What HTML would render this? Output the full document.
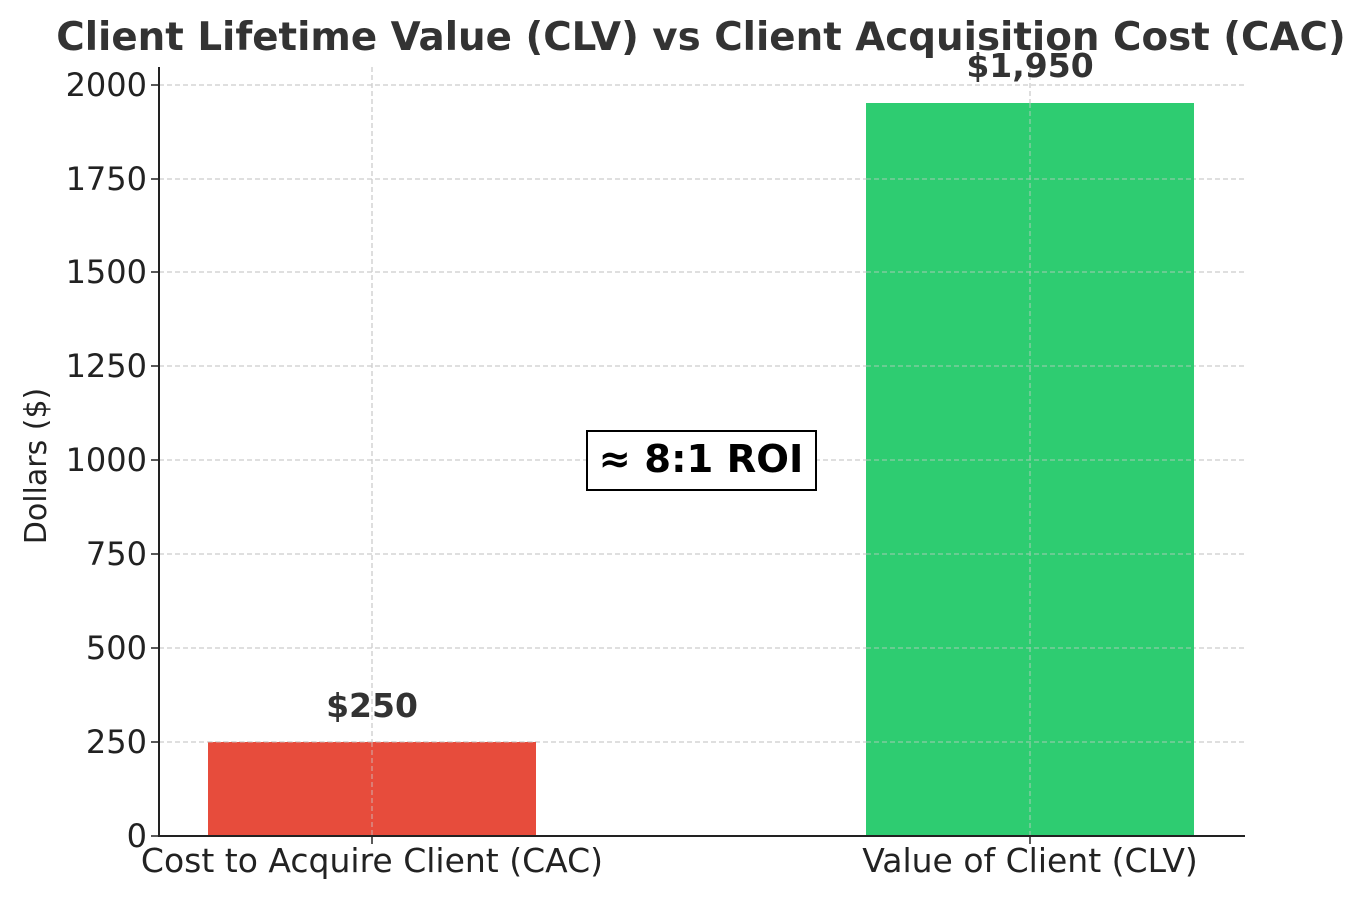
<!DOCTYPE html>
<html><head><meta charset="utf-8"><style>
html,body{margin:0;padding:0;background:#fff;}
svg{display:block;font-family:"DejaVu Sans","Liberation Sans",sans-serif;}
</style></head><body>
<svg width="1366" height="899" viewBox="0 0 1366 899" xmlns="http://www.w3.org/2000/svg">
<rect width="1366" height="899" fill="#fff"/>
<text x="701" y="50" text-anchor="middle" font-size="38.8" font-weight="bold" fill="#333">Client Lifetime Value (CLV) vs Client Acquisition Cost (CAC)</text>
<g stroke="#ccc" stroke-width="1.3" stroke-dasharray="5,3">
<line x1="159" x2="1244" y1="742" y2="742"/>
<line x1="159" x2="1244" y1="648" y2="648"/>
<line x1="159" x2="1244" y1="554" y2="554"/>
<line x1="159" x2="1244" y1="460" y2="460"/>
<line x1="159" x2="1244" y1="366" y2="366"/>
<line x1="159" x2="1244" y1="272" y2="272"/>
<line x1="159" x2="1244" y1="179" y2="179"/>
<line x1="159" x2="1244" y1="85" y2="85"/>
<line x1="372" x2="372" y1="67" y2="836"/>
<line x1="1030" x2="1030" y1="67" y2="836"/>
</g>
<rect x="208" y="742" width="328" height="94" fill="#e74c3c"/>
<rect x="866" y="103" width="328" height="733" fill="#2ecc71"/>
<g stroke="#ccc" stroke-width="1.3" stroke-dasharray="5,3" opacity="0.6">
<line x1="372" x2="372" y1="742" y2="836"/>
<line x1="1030" x2="1030" y1="103" y2="836"/>
<line x1="208" x2="536" y1="742" y2="742"/>
<line x1="866" x2="1194" y1="742" y2="742"/><line x1="866" x2="1194" y1="648" y2="648"/><line x1="866" x2="1194" y1="554" y2="554"/><line x1="866" x2="1194" y1="460" y2="460"/><line x1="866" x2="1194" y1="366" y2="366"/><line x1="866" x2="1194" y1="272" y2="272"/><line x1="866" x2="1194" y1="179" y2="179"/>
</g>
<g stroke="#222" stroke-width="2">
<line x1="159" x2="159" y1="67" y2="837"/>
<line x1="158" x2="1245" y1="836" y2="836"/>
</g>
<g stroke="#222" stroke-width="1.5">
<line x1="151" x2="159" y1="836" y2="836"/><line x1="151" x2="159" y1="742" y2="742"/><line x1="151" x2="159" y1="648" y2="648"/><line x1="151" x2="159" y1="554" y2="554"/><line x1="151" x2="159" y1="460" y2="460"/><line x1="151" x2="159" y1="366" y2="366"/><line x1="151" x2="159" y1="272" y2="272"/><line x1="151" x2="159" y1="179" y2="179"/><line x1="151" x2="159" y1="85" y2="85"/>
<line x1="372" x2="372" y1="836" y2="844"/><line x1="1030" x2="1030" y1="836" y2="844"/>
</g>
<g font-size="32" fill="#222" text-anchor="end">
<text x="147" y="847">0</text><text x="147" y="753">250</text><text x="147" y="659">500</text><text x="147" y="565">750</text><text x="147" y="471">1000</text><text x="147" y="377">1250</text><text x="147" y="283">1500</text><text x="147" y="190">1750</text><text x="147" y="96">2000</text>
</g>
<g font-size="33" fill="#222" text-anchor="middle">
<text x="372" y="872">Cost to Acquire Client (CAC)</text>
<text x="1030" y="872">Value of Client (CLV)</text>
</g>
<text transform="translate(46,466) rotate(-90)" font-size="30" fill="#222" text-anchor="middle">Dollars ($)</text>
<text x="372" y="717" font-size="33" font-weight="bold" fill="#333" text-anchor="middle">$250</text>
<text x="1030" y="77" font-size="33" font-weight="bold" fill="#333" text-anchor="middle">$1,950</text>
<rect x="587" y="431" width="229" height="59" fill="#fff" stroke="#000" stroke-width="2"/>
<text x="701" y="472" font-size="38.5" font-weight="bold" fill="#000" text-anchor="middle">≈ 8:1 ROI</text>
</svg>
</body></html>
